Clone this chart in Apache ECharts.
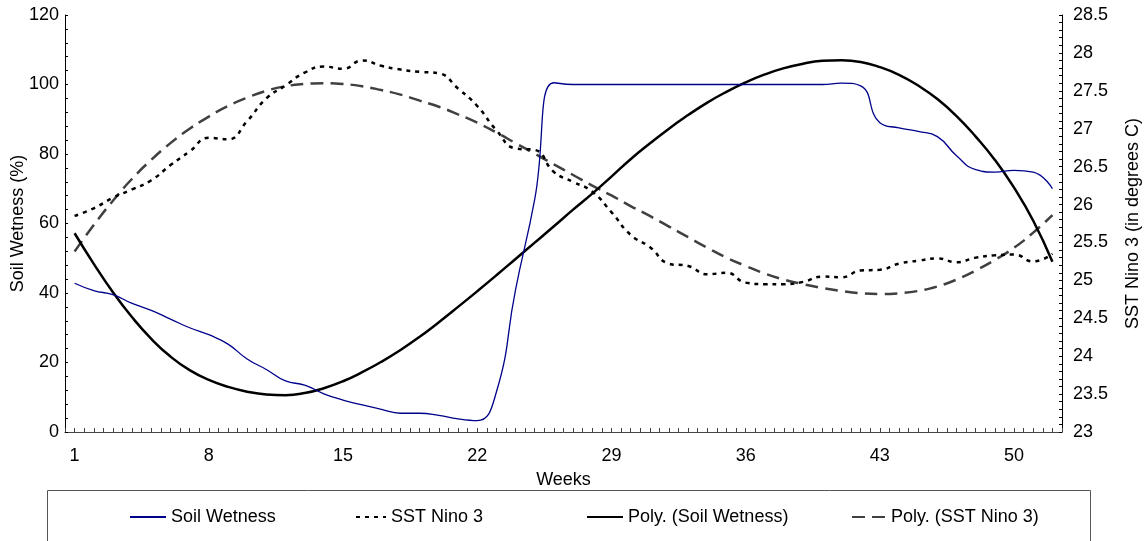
<!DOCTYPE html>
<html><head><meta charset="utf-8">
<script src="https://cdn.jsdelivr.net/npm/echarts@6/dist/echarts.min.js"></script>
<style>html,body{margin:0;padding:0;background:#fff}#c{width:1146px;height:541px}</style>
</head><body><div id="c"></div>
<script>
const weeks = ['1','2','3','4','5','6','7','8','9','10','11','12','13','14','15','16','17','18','19','20','21','22','23','24','25','26','27','28','29','30','31','32','33','34','35','36','37','38','39','40','41','42','43','44','45','46','47','48','49','50','51','52'];

const soilWetness = [42.8,40.7,39.5,37.0,35.0,32.5,30.0,28.0,25.3,21.0,18.0,14.7,13.5,11.0,9.2,7.8,6.5,5.4,5.4,4.8,3.8,3.3,11.5,41,67,100.5,100,100,100,100,100,100,100,100,100,100,100,100,100,100,100.4,99.6,89,87.5,86.5,85.0,79.5,75.5,74.8,75.3,74.8,70.0];

const sstNino3 = [25.85,25.95,26.09,26.2,26.32,26.52,26.7,26.88,26.86,27.1,27.4,27.57,27.74,27.82,27.79,27.9,27.83,27.78,27.75,27.73,27.53,27.3,26.98,26.74,26.72,26.43,26.3,26.17,25.9,25.6,25.44,25.22,25.19,25.08,25.1,24.97,24.95,24.95,24.98,25.05,25.04,25.13,25.14,25.22,25.26,25.29,25.24,25.3,25.33,25.34,25.25,25.35];

const polySoil = [57.2,48.4,40.2,33.0,26.8,21.7,17.8,15.0,13.0,11.6,10.8,10.6,11.2,12.6,14.6,17.2,20.2,23.6,27.4,31.6,36.0,40.5,45.1,49.8,54.5,59.2,64.0,68.6,73.5,78.5,83.0,87.3,91.2,94.8,97.9,100.6,102.9,104.7,106.0,106.8,107.0,106.5,105.0,102.8,99.7,95.8,90.9,85.0,78.3,70.3,60.8,49.0];

const polySst = [25.38,25.73,26.05,26.34,26.59,26.81,27.0,27.16,27.30,27.41,27.50,27.56,27.59,27.60,27.59,27.56,27.51,27.45,27.37,27.29,27.19,27.08,26.95,26.81,26.67,26.53,26.39,26.25,26.12,25.98,25.85,25.71,25.57,25.43,25.30,25.19,25.09,25.01,24.95,24.90,24.86,24.83,24.82,24.83,24.86,24.92,25.01,25.13,25.27,25.43,25.63,25.86];

const FONT = 'Liberation Sans';
const TXT = {fontFamily: FONT, fontSize: 18, color: '#000'};
const LEG_ITEM = {opacity: 0, borderWidth: 0};

const chart = echarts.init(document.getElementById('c'), null, {renderer: 'canvas'});
chart.setOption({
  animation: false,
  backgroundColor: '#fff',
  grid: {left: 65, right: 84, top: 15, bottom: 109, containLabel: false, outerBoundsMode: 'none'},
  graphic: [{
    type: 'rect', shape: {x: 47.5, y: 490.5, width: 1043, height: 70},
    style: {fill: 'none', stroke: '#555', lineWidth: 1}, z: -1
  }],
  legend: [
    {data: ['Soil Wetness'], left: 124, top: 503, itemWidth: 36, itemHeight: 14, textStyle: TXT, itemStyle: LEG_ITEM},
    {data: ['SST Nino 3'], left: 350, top: 503, itemWidth: 30, itemHeight: 14, textStyle: TXT, itemStyle: LEG_ITEM},
    {data: ['Poly. (Soil Wetness)'], left: 581, top: 503, itemWidth: 36, itemHeight: 14, textStyle: TXT, itemStyle: LEG_ITEM},
    {data: ['Poly. (SST Nino 3)'], left: 846, top: 503, itemWidth: 34, itemHeight: 14, textStyle: TXT, itemStyle: LEG_ITEM}
  ],
  xAxis: [{
    type: 'category', data: weeks, boundaryGap: true, position: 'bottom',
    name: 'Weeks', nameLocation: 'middle', nameGap: 39, nameMoveOverlap: false,
    nameTextStyle: TXT,
    axisLine: {lineStyle: {color: '#444', width: 1}},
    axisTick: {show: false},
    axisLabel: Object.assign({interval: 6, margin: 15}, TXT),
    splitLine: {show: false}
  }, {
    type: 'value', min: 0, max: 104, interval: 1, position: 'bottom',
    axisLine: {show: false},
    axisTick: {show: true, inside: true, length: 4, lineStyle: {color: '#444'}},
    axisLabel: {show: false}, splitLine: {show: false}
  }],
  yAxis: [{
    type: 'value', min: 0, max: 120, interval: 20, position: 'left',
    name: 'Soil Wetness (%)', nameLocation: 'middle', nameGap: 38, nameRotate: 90, nameMoveOverlap: false,
    nameTextStyle: TXT,
    axisLine: {show: true, lineStyle: {color: '#000', width: 1}},
    axisTick: {show: true, inside: true, length: 3, lineStyle: {color: '#000'}},
    minorTick: {show: true, splitNumber: 5, length: 3, lineStyle: {color: '#000'}},
    axisLabel: Object.assign({margin: 6}, TXT),
    splitLine: {show: false}
  }, {
    type: 'value', min: 23, max: 28.5, interval: 0.5, position: 'right',
    name: 'SST Nino 3 (in degrees C)', nameLocation: 'middle', nameGap: 62, nameRotate: 90, nameMoveOverlap: false,
    nameTextStyle: TXT,
    axisLine: {show: true, lineStyle: {color: '#000', width: 1}},
    axisTick: {show: true, inside: true, length: 3, lineStyle: {color: '#000'}},
    minorTick: {show: true, splitNumber: 5, length: 3, lineStyle: {color: '#000'}},
    axisLabel: Object.assign({margin: 11}, TXT),
    splitLine: {show: false}
  }],
  series: [{
    name: 'Soil Wetness', type: 'line', xAxisIndex: 0, yAxisIndex: 0, data: soilWetness,
    smooth: true, symbol: 'none', z: 4,
    lineStyle: {color: '#00008B', width: 1.3}, itemStyle: {color: '#00008B'}
  }, {
    name: 'SST Nino 3', type: 'line', xAxisIndex: 0, yAxisIndex: 1, data: sstNino3,
    smooth: true, symbol: 'none', z: 3,
    lineStyle: {color: '#000', width: 2.5, type: [4, 5]}, itemStyle: {color: '#000'}
  }, {
    name: 'Poly. (Soil Wetness)', type: 'line', xAxisIndex: 0, yAxisIndex: 0, data: polySoil,
    smooth: true, symbol: 'none', z: 3,
    lineStyle: {color: '#000', width: 2.5}, itemStyle: {color: '#000'}
  }, {
    name: 'Poly. (SST Nino 3)', type: 'line', xAxisIndex: 0, yAxisIndex: 1, data: polySst,
    smooth: true, symbol: 'none', z: 2,
    lineStyle: {color: '#404040', width: 2.5, type: [13, 7]}, itemStyle: {color: '#404040'}
  }]
});
</script></body></html>
